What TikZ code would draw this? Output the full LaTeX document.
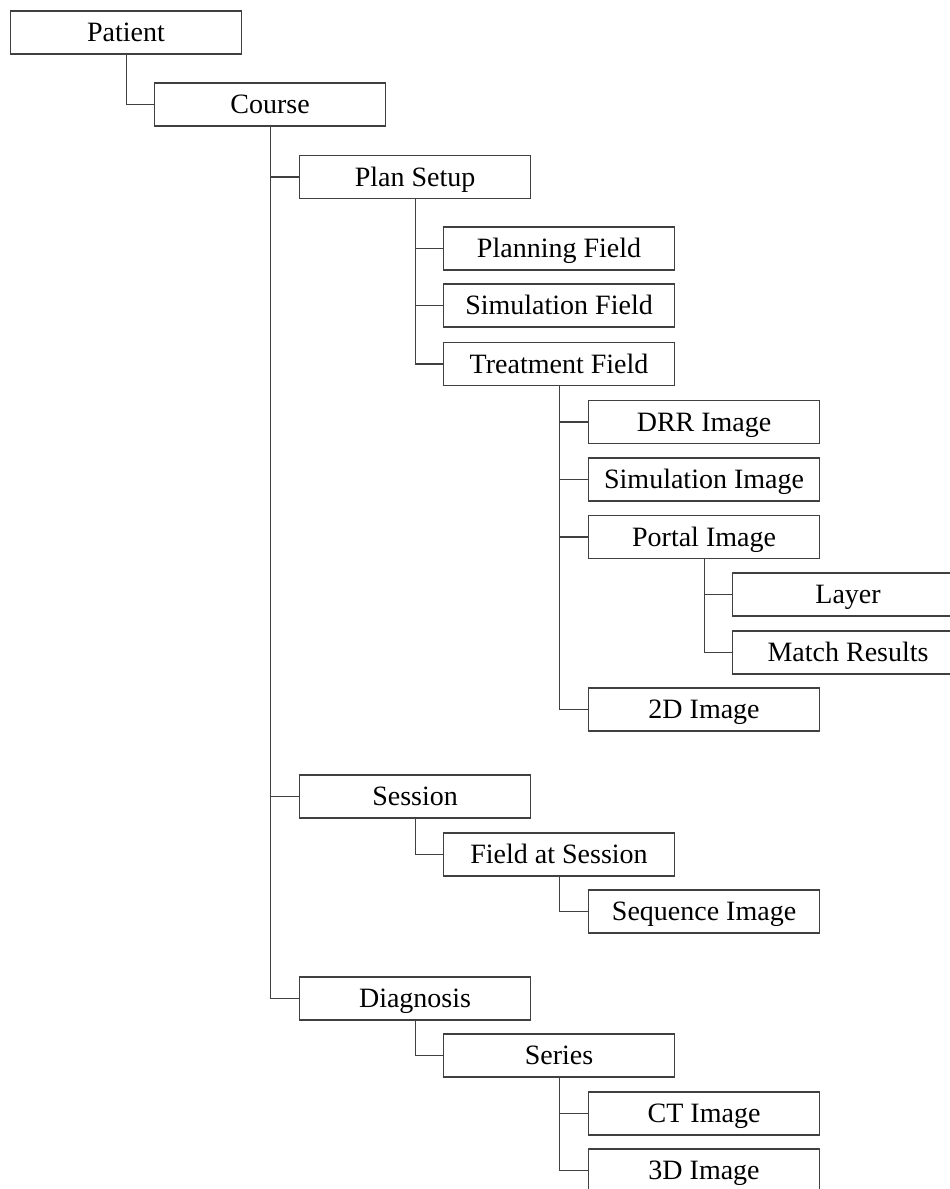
\documentclass[tikz,border=0pt]{standalone}
\usepackage{fontspec}
\setmainfont{Liberation Serif}
\begin{document}
\begin{tikzpicture}[x=1pt,y=-1pt,
  treebox/.style={draw=black!75,line width=1.1pt,rectangle,anchor=west,
    minimum width=231pt,minimum height=43pt,inner sep=0pt,
    text height=18.5pt,text depth=0pt,
    font=\fontsize{28}{33}\selectfont},
  link/.style={draw=black!75,line width=1.1pt}]
\useasboundingbox (0,0) rectangle (950,1189);
\node[treebox] (patient)   at (10,32.5)   {Patient};
\node[treebox] (course)    at (154,104.5) {Course};
\node[treebox] (plan)      at (299,177)   {Plan Setup};
\node[treebox] (planning)  at (443,248.5) {Planning Field};
\node[treebox] (simfield)  at (443,305.5) {Simulation Field};
\node[treebox] (treat)     at (443,364)   {Treatment Field};
\node[treebox] (drr)       at (588,422)   {DRR Image};
\node[treebox] (simimg)    at (588,479.5) {Simulation Image};
\node[treebox] (portal)    at (588,537)   {Portal Image};
\node[treebox] (layer)     at (732,594.5) {Layer};
\node[treebox] (match)     at (732,652.5) {Match Results};
\node[treebox] (img2d)     at (588,709.5) {2D Image};
\node[treebox] (session)   at (299,796.5) {Session};
\node[treebox] (fieldsess) at (443,854.5) {Field at Session};
\node[treebox] (seq)       at (588,911.5) {Sequence Image};
\node[treebox] (diag)      at (299,998.5) {Diagnosis};
\node[treebox] (series)    at (443,1055.5){Series};
\node[treebox] (ct)        at (588,1113.5){CT Image};
\node[treebox] (img3d)     at (588,1170.5){3D Image};
\draw[link] (patient.south) |- (course.west);
\draw[link] (course.south) |- (plan.west);
\draw[link] (course.south) |- (session.west);
\draw[link] (course.south) |- (diag.west);
\draw[link] (plan.south) |- (planning.west);
\draw[link] (plan.south) |- (simfield.west);
\draw[link] (plan.south) |- (treat.west);
\draw[link] (treat.south) |- (drr.west);
\draw[link] (treat.south) |- (simimg.west);
\draw[link] (treat.south) |- (portal.west);
\draw[link] (treat.south) |- (img2d.west);
\draw[link] (portal.south) |- (layer.west);
\draw[link] (portal.south) |- (match.west);
\draw[link] (session.south) |- (fieldsess.west);
\draw[link] (fieldsess.south) |- (seq.west);
\draw[link] (diag.south) |- (series.west);
\draw[link] (series.south) |- (ct.west);
\draw[link] (series.south) |- (img3d.west);
\end{tikzpicture}
\end{document}
